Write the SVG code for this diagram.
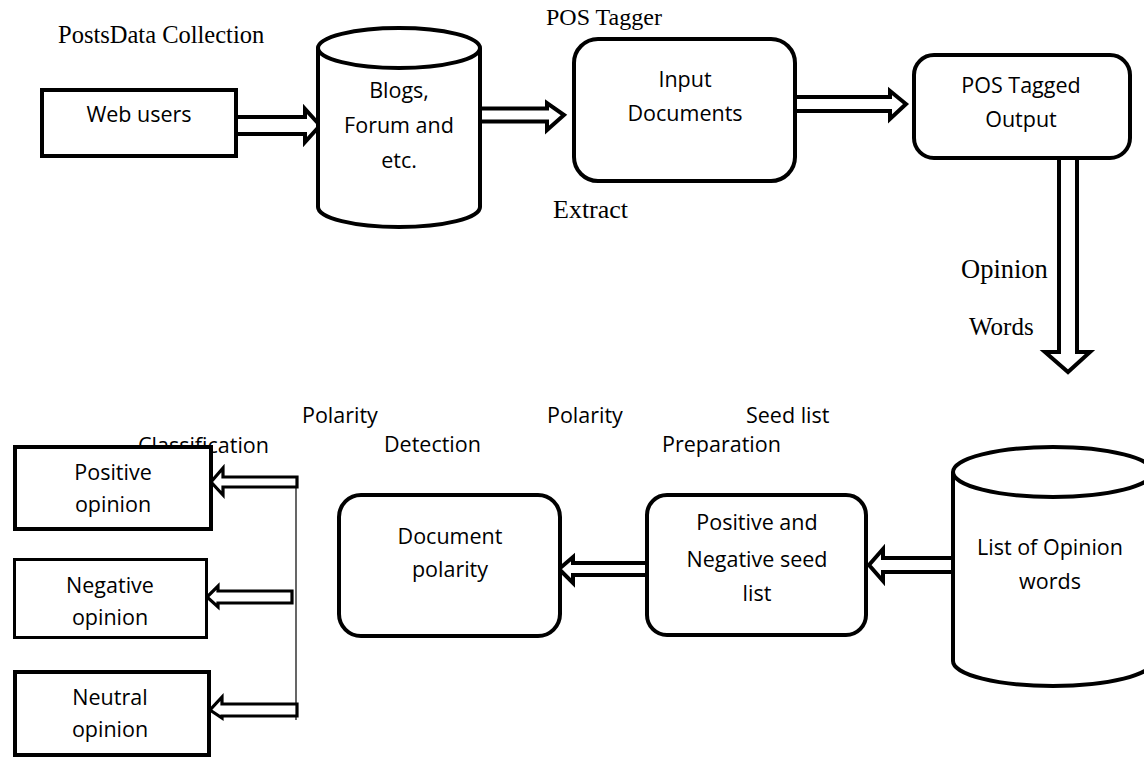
<svg xmlns="http://www.w3.org/2000/svg" width="1144" height="759" viewBox="0 0 1144 759">
  <defs>
    <style>
      .box { fill: #ffffff; stroke: #000000; stroke-width: 4; }
      .thin { stroke-width: 3; }
      .cyl { fill: #ffffff; stroke: #000000; stroke-width: 4; }
      .arrow { fill: #ffffff; stroke: #000000; stroke-width: 4; stroke-linejoin: miter; }
      .arrow-s { fill: #ffffff; stroke: #000000; stroke-width: 3.2; stroke-linejoin: miter; }
      .label { font-family: "Open Sans", "Liberation Sans", sans-serif; font-size: 21.5px; fill: #000000; }
      .node-text { font-family: "Open Sans", "Liberation Sans", sans-serif; font-size: 21.5px; fill: #000000; text-anchor: middle; }
      .serif { font-family: "Liberation Serif", "Times New Roman", serif; fill: #000000; }
    </style>
  </defs>
  <rect width="1144" height="759" fill="#ffffff"/>

  <!-- stage captions -->
  <g id="captions">
    <text class="serif" x="58" y="43" font-size="24.5">PostsData Collection</text>
    <text class="serif" x="546" y="25" font-size="24">POS Tagger</text>
    <text class="serif" x="553" y="218" font-size="26">Extract</text>
    <text class="serif" x="961" y="278" font-size="26.5">Opinion</text>
    <text class="serif" x="969" y="335" font-size="25">Words</text>
    <text class="label" x="302" y="423">Polarity</text>
    <text class="label" x="384" y="452">Detection</text>
    <text class="label" x="547" y="423">Polarity</text>
    <text class="label" x="746" y="423">Seed list</text>
    <text class="label" x="662" y="452">Preparation</text>
    <text class="label" x="138" y="453">Classification</text>
  </g>

  <!-- connectors: hollow block arrows -->
  <g id="connectors">
    <path class="arrow" d="M238,117 L305,117 L305,109 L320,125.5 L305,142 L305,134 L238,134"/>
    <path class="arrow" d="M480,108.5 L547,108.5 L547,103 L564,115 L547,130 L547,121.5 L480,121.5"/>
    <path class="arrow" d="M797,97 L890,97 L890,91 L906,104 L890,119 L890,111 L797,111"/>
    <path class="arrow" d="M1059,160 L1059,352 L1045,352 L1068,372 L1090,352 L1077,352 L1077,160"/>
    <path class="arrow" d="M951,558 L883,558 L883,549 L869,565 L883,581 L883,572 L951,572"/>
    <path class="arrow" d="M645,563 L573,563 L573,557 L559,569 L573,583 L573,575 L645,575"/>
    <line x1="296" y1="478" x2="296" y2="720" stroke="#000000" stroke-width="1.2"/>
    <path class="arrow-s" d="M297,477 L223,477 L223,468 L211,482 L223,495 L223,487 L297,487 Z"/>
    <path class="arrow-s" d="M292,591 L218,591 L218,586 L207,597 L218,607 L218,603 L292,603 Z"/>
    <path class="arrow-s" d="M297,704 L222,704 L222,697 L210,710 L222,718 L222,716 L297,716 Z"/>
  </g>

  <g id="web-users">
    <rect class="box" x="42" y="90" width="194" height="66"/>
    <text class="node-text" x="139" y="122">Web users</text>
  </g>

  <g id="blogs-forum">
    <path class="cyl" d="M318,48 L318,207 A81,20 0 0 0 480,207 L480,48"/>
    <ellipse class="cyl" cx="399" cy="48" rx="81" ry="20"/>
    <text class="node-text" x="399" y="98">Blogs,</text>
    <text class="node-text" x="399" y="133">Forum and</text>
    <text class="node-text" x="399" y="168">etc.</text>
  </g>

  <g id="input-documents">
    <rect class="box" x="574" y="39" width="221" height="142" rx="24"/>
    <text class="node-text" x="685" y="87">Input</text>
    <text class="node-text" x="685" y="121">Documents</text>
  </g>

  <g id="pos-tagged-output">
    <rect class="box" x="914" y="55" width="216" height="103" rx="20"/>
    <text class="node-text" x="1021" y="93">POS Tagged</text>
    <text class="node-text" x="1021" y="127">Output</text>
  </g>

  <g id="list-of-opinion-words">
    <path class="cyl" d="M953,472 L953,661 A100,25 0 0 0 1153,661 L1153,472"/>
    <ellipse class="cyl" cx="1053" cy="472" rx="100" ry="25"/>
    <text class="node-text" x="1050" y="555">List of Opinion</text>
    <text class="node-text" x="1050" y="589">words</text>
  </g>

  <g id="seed-list">
    <rect class="box" x="647" y="495" width="219" height="140" rx="20"/>
    <text class="node-text" x="757" y="530">Positive and</text>
    <text class="node-text" x="757" y="567">Negative seed</text>
    <text class="node-text" x="757" y="601">list</text>
  </g>

  <g id="document-polarity">
    <rect class="box" x="339" y="495" width="221" height="141" rx="22"/>
    <text class="node-text" x="450" y="544">Document</text>
    <text class="node-text" x="450" y="577">polarity</text>
  </g>

  <g id="positive-opinion">
    <rect class="box" x="15" y="447" width="196" height="82"/>
    <text class="node-text" x="113" y="480">Positive</text>
    <text class="node-text" x="113" y="512">opinion</text>
  </g>

  <g id="negative-opinion">
    <rect class="box thin" x="14.5" y="559.5" width="192" height="78"/>
    <text class="node-text" x="110" y="593">Negative</text>
    <text class="node-text" x="110" y="625">opinion</text>
  </g>

  <g id="neutral-opinion">
    <rect class="box" x="15" y="672" width="194" height="83"/>
    <text class="node-text" x="110" y="705">Neutral</text>
    <text class="node-text" x="110" y="737">opinion</text>
  </g>
</svg>
